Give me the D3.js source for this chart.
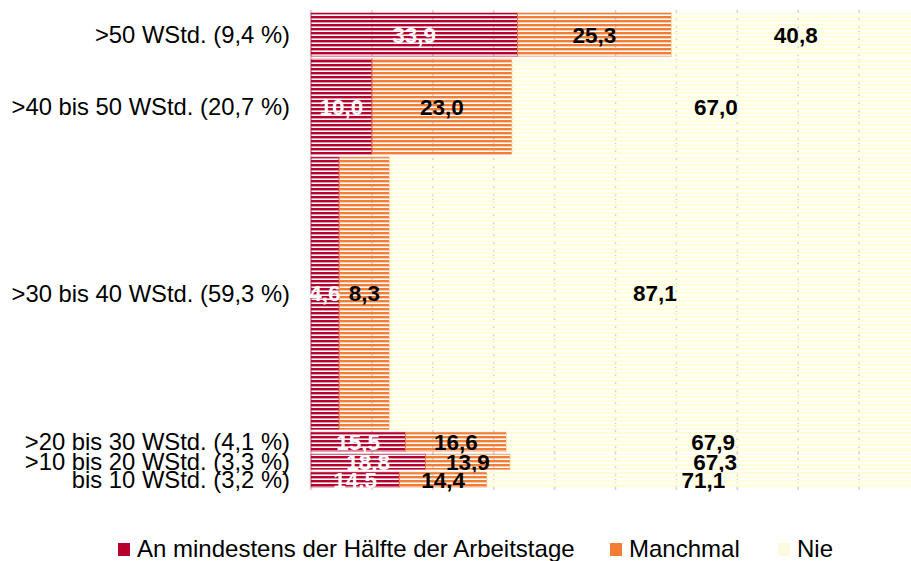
<!DOCTYPE html>
<html>
<head>
<meta charset="utf-8">
<script src="https://cdn.jsdelivr.net/npm/d3@7"></script>
<style>
  body { margin: 0; background: #fff; }
  svg { display: block; font-family: "Liberation Sans", Arial, sans-serif; }
</style>
</head>
<body>
<svg id="chart"></svg>
<script>
var width = 911;
var height = 561;

// data
var categories = [
    '>50 WStd. (9,4 %)',
    '>40 bis 50 WStd. (20,7 %)',
    '>30 bis 40 WStd. (59,3 %)',
    '>20 bis 30 WStd. (4,1 %)',
    '>10 bis 20 WStd. (3,3 %)',
    'bis 10 WStd. (3,2 %)'
];
var shares = [9.4, 20.7, 59.3, 4.1, 3.3, 3.2];
var halfDays = [33.9, 10.0, 4.6, 15.5, 18.8, 14.5];
var sometimes = [25.3, 23.0, 8.3, 16.6, 13.9, 14.4];
var never = [40.8, 67.0, 87.1, 67.9, 67.3, 71.1];
var seriesNames = ['An mindestens der Hälfte der Arbeitstage', 'Manchmal', 'Nie'];
var gridTicks = [10, 20, 30, 40, 50, 60, 70, 80, 90];

var colors = ['#b8002f', '#f07e37', '#ffffd9'];
var textColors = ['#fff', '#000', '#000'];

var plotLeft = 311;
var plotTop = 13;
var plotBottom = 487;
var gap = 3;

var xScale = d3.scaleLinear()
                .domain([0, 100])
                .range([plotLeft, 920]);

// bar thickness proportional to share
var yScale = d3.scaleLinear()
                .domain([0, d3.sum(shares)])
                .range([0, plotBottom - plotTop - gap * (shares.length - 1)]);

var rows = categories.map(function(c, i){
    var before = d3.sum(shares.slice(0, i));
    return {
        name: c,
        y0: plotTop + yScale(before) + i * gap,
        h: yScale(shares[i]),
        vals: [halfDays[i], sometimes[i], never[i]]
    };
});

var svg = d3.select('#chart')
            .attr('width', width)
            .attr('height', height);

// striped fills
var defs = svg.append('defs');
colors.forEach(function(col, k){
    var p = defs.append('pattern')
        .attr('id', 'stripe' + k)
        .attr('patternUnits', 'userSpaceOnUse')
        .attr('width', 8)
        .attr('height', 4);
    p.append('rect')
        .attr('width', 8)
        .attr('height', 2.4)
        .attr('fill', col);
});

// grid
svg.append('g')
    .selectAll('line')
    .data(gridTicks)
    .enter()
    .append('line')
        .attr('x1', d => xScale(d))
        .attr('x2', d => xScale(d))
        .attr('y1', 10)
        .attr('y2', 490)
        .attr('stroke', '#d4d4d4')
        .attr('stroke-width', 1.6)
        .attr('stroke-dasharray', '4,3');

svg.append('line')
    .attr('x1', xScale(0))
    .attr('x2', xScale(0))
    .attr('y1', 10)
    .attr('y2', 490)
    .attr('stroke', '#d8d8d8')
    .attr('stroke-width', 2.5);

// bars
var rowG = svg.append('g')
    .selectAll('g')
    .data(rows)
    .enter()
    .append('g');

rowG.selectAll('rect')
    .data(function(r){
        var acc = 0;
        return r.vals.map(function(v, k){
            var seg = { k: k, x0: acc, v: v, y0: r.y0, h: r.h };
            acc += v;
            return seg;
        });
    })
    .enter()
    .append('rect')
        .attr('x', d => xScale(d.x0))
        .attr('y', d => d.y0)
        .attr('width', d => xScale(d.x0 + d.v) - xScale(d.x0))
        .attr('height', d => d.h)
        .attr('fill', d => 'url(#stripe' + d.k + ')')
        .attr('stroke', d => d.k == 2 ? '#fff6cc' : colors[d.k])
        .attr('stroke-opacity', 0.55)
        .attr('stroke-width', 1);

rowG.selectAll('text')
    .data(function(r){
        var acc = 0;
        return r.vals.map(function(v, k){
            var seg = { k: k, mid: acc + v / 2, v: v, cy: r.y0 + r.h / 2 };
            acc += v;
            return seg;
        });
    })
    .enter()
    .append('text')
        .attr('x', d => xScale(d.mid))
        .attr('y', d => d.cy)
        .attr('dy', '0.36em')
        .style('text-anchor', 'middle')
        .style('font-size', '22.5px')
        .style('font-weight', 'bold')
        .attr('fill', d => textColors[d.k])
        .text(d => d.v.toFixed(1).replace('.', ','));

// category labels
svg.append('g')
    .selectAll('text')
    .data(rows)
    .enter()
    .append('text')
        .attr('x', 290)
        .attr('y', d => d.y0 + d.h / 2)
        .attr('dy', '0.36em')
        .style('text-anchor', 'end')
        .style('font-size', '23.8px')
        .attr('fill', '#000')
        .text(d => d.name);

// legend
var legendX = [118, 610, 778];
var legend = svg.append('g')
    .selectAll('g')
    .data(seriesNames)
    .enter()
    .append('g')
        .attr('transform', (d, i) => 'translate(' + legendX[i] + ',0)');

legend.append('rect')
    .attr('y', 543)
    .attr('width', 12)
    .attr('height', 13)
    .attr('fill', (d, i) => i == 2 ? '#fbfbe2' : colors[i]);

legend.append('text')
    .attr('x', 19)
    .attr('y', 557)
    .style('font-size', '24px')
    .attr('fill', '#000')
    .text(d => d);
</script>
</body>
</html>
